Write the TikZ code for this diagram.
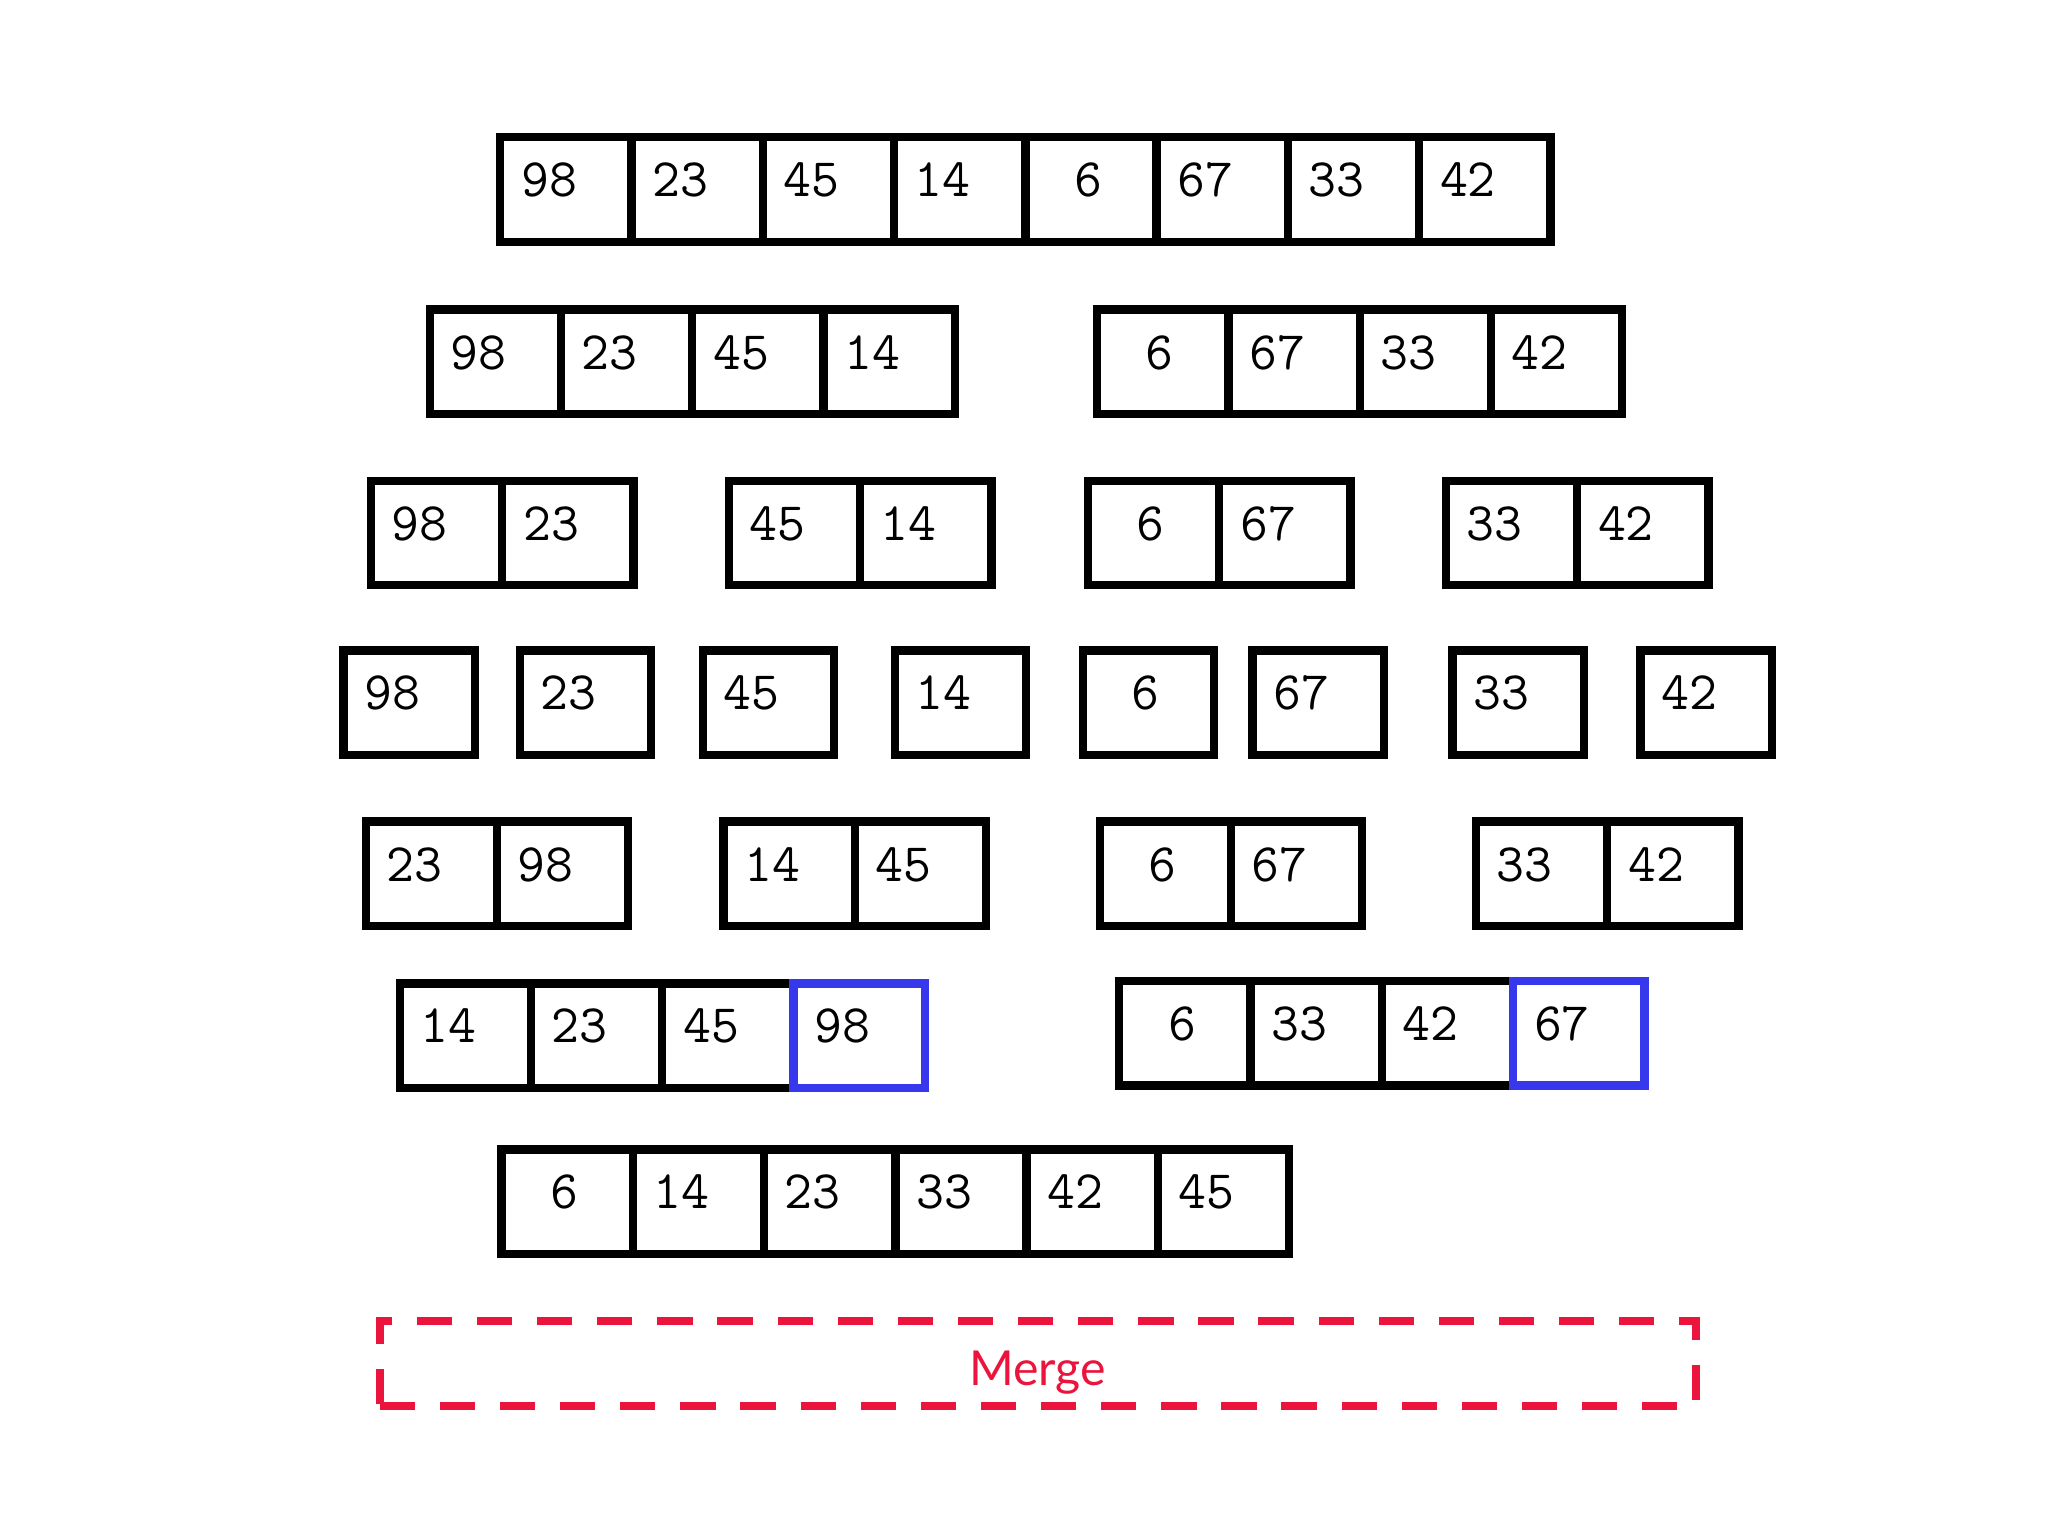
\documentclass[tikz,border=0pt]{standalone}
\usepackage{fontspec}
\newfontfamily\labelfont{Lato}
\usepackage{tikz}
\usetikzlibrary{positioning}
\definecolor{hlblue}{RGB}{55,55,235}
\definecolor{mergered}{RGB}{235,20,60}

\begin{document}
\begin{tikzpicture}[x=0.01cm, y=-0.01cm,
  cell/.style={draw, line width=1.8pt, outer sep=0pt, anchor=north west,
    minimum height=0.80cm, text width=0.685cm, inner xsep=0.16cm, inner ysep=0pt,
    align=left, text height=0.25cm, text depth=0.14cm,
    font=\ttfamily\fontsize{11.8}{14}\selectfont},
  hl/.style={draw=hlblue, line width=1.8pt},
  mergebox/.style={draw=mergered, line width=1.8pt, dash pattern=on 0.27cm off 0.19cm,
    minimum width=10.07cm, minimum height=0.58cm, text=mergered,
    text height=0.38cm, text depth=0.04cm,
    font=\labelfont\fontsize{10.5}{12}\selectfont}]
\useasboundingbox (0,0) rectangle (1568,1176);
% split and merge rows, one group per entry
\foreach \g/\x/\y/\vals in {
    r1/383/105/{98,23,45,14,\phantom{0}6,67,33,42},
    r2a/329/237/{98,23,45,14}, r2b/840/237/{\phantom{0}6,67,33,42},
    r3a/284/368/{98,23}, r3b/558/368/{45,14}, r3c/833/368/{\phantom{0}6,67}, r3d/1107/368/{33,42},
    r4a/263/498/{98}, r4b/398/498/{23}, r4c/538/498/{45}, r4d/685/498/{14},
    r4e/829/498/{\phantom{0}6}, r4f/959/498/{67}, r4g/1112/498/{33}, r4h/1256/498/{42},
    r5a/280/629/{23,98}, r5b/554/629/{14,45}, r5c/842/629/{\phantom{0}6,67}, r5d/1130/629/{33,42},
    r6a/306/753/{14,23,45,98}, r6b/857/751/{\phantom{0}6,33,42,67},
    r7/384/880/{\phantom{0}6,14,23,33,42,45}}
  \foreach \v [count=\i] in \vals
    \node[cell] (\g-\i) at ({\x+100.5*(\i-1)},\y) {\v};
\draw[hl] (r6a-4.north west) rectangle (r6a-4.south east);
\draw[hl] (r6b-4.north west) rectangle (r6b-4.south east);
\node[mergebox] (merge) at (794.5,1044) {Merge};
\end{tikzpicture}
\end{document}
